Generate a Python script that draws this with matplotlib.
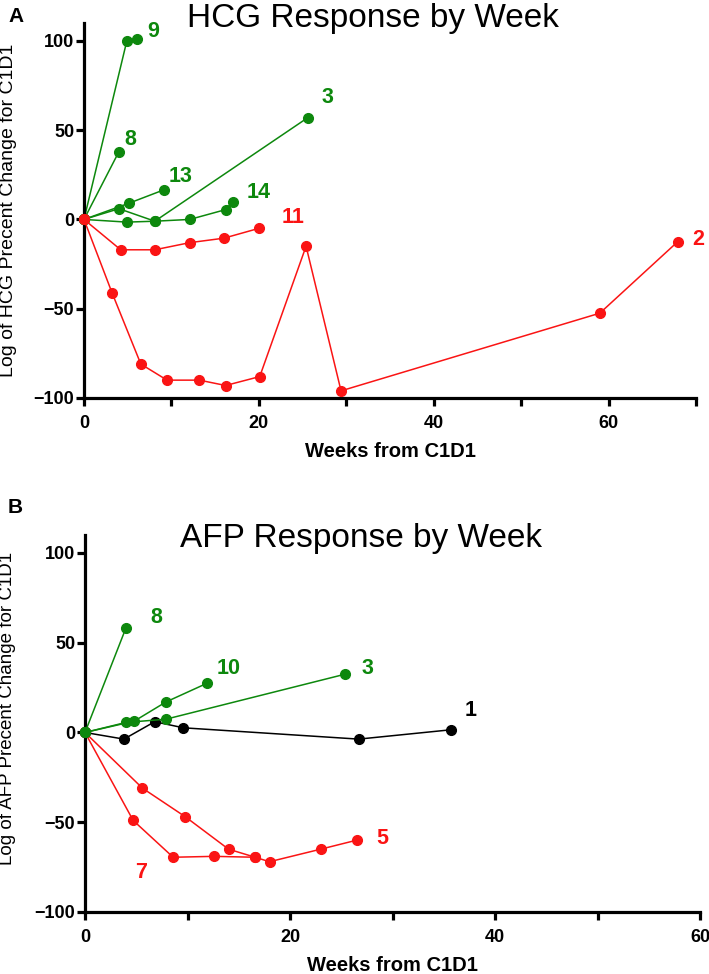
import matplotlib
matplotlib.use("Agg")
import matplotlib.pyplot as plt

plt.rcParams['font.family'] = ['Liberation Sans', 'DejaVu Sans']

GREEN = '#0d880d'
RED = '#fa1414'
BLACK = '#000000'

# ---------------- HCG data (panel A) ----------------
hcg_9_x = [0, 4.9, 6.1]
hcg_9_y = [0, 100, 101]
hcg_8_x = [0, 4.0]
hcg_8_y = [0, 38]
hcg_3_x = [0, 4.0, 8.1, 25.6]
hcg_3_y = [0, 6, -1, 57]
hcg_13_x = [0, 5.1, 9.1]
hcg_13_y = [0, 9, 16.5]
hcg_14_x = [0, 4.9, 8.1, 12.1, 16.2, 17.0]
hcg_14_y = [0, -1.5, -1, 0, 5.5, 10]
hcg_11_x = [0, 4.2, 8.1, 12.1, 16.0, 20.0]
hcg_11_y = [0, -17, -17, -13, -10.5, -5]
hcg_2_x = [0, 3.2, 6.5, 9.5, 13.2, 16.2, 20.1, 25.4, 29.4, 59.0, 67.9]
hcg_2_y = [0, -41, -81, -90, -90, -93, -88, -15, -96, -52.5, -12.5]

hcg_labels = ['9', '3', '8', '13', '14', '11', '2']
hcg_label_x = [7.9, 27.9, 5.3, 11.0, 20.0, 23.9, 70.3]
hcg_label_y = [105.4, 68.3, 44.9, 24.1, 15.1, 1.1, -11.2]
hcg_label_c = [GREEN, GREEN, GREEN, GREEN, GREEN, RED, RED]

# ---------------- AFP data (panel B) ----------------
afp_8_x = [0, 4.0]
afp_8_y = [0, 58.3]
afp_10_x = [0, 4.8, 7.9, 11.9]
afp_10_y = [0, 6.3, 17, 27.4]
afp_3_x = [0, 4.0, 7.9, 25.4]
afp_3_y = [0, 5.6, 7.4, 32.5]
afp_1_x = [0, 3.8, 6.8, 9.6, 26.7, 35.7]
afp_1_y = [0, -3.7, 6, 2.6, -3.7, 1.5]
afp_7_x = [0, 4.7, 8.6, 12.6, 16.6]
afp_7_y = [0, -49, -69.5, -69, -69.5]
afp_5_x = [0, 5.6, 9.8, 14.0, 16.6, 18.0, 23.0, 26.5]
afp_5_y = [0, -31, -47, -65, -69.5, -72, -65, -60]

afp_labels = ['8', '10', '3', '1', '5', '7']
afp_label_x = [7.0, 14.0, 27.6, 37.6, 29.0, 5.5]
afp_label_y = [64.2, 35.4, 35.4, 12.0, -59.0, -78.0]
afp_label_c = [GREEN, GREEN, GREEN, BLACK, RED, RED]

W, H = 709, 974
fig = plt.figure(figsize=(W / 100, H / 100), dpi=100)

axA = fig.add_axes([84 / W, 1 - 398 / H, (696 - 84) / W, (398 - 23) / H])
axB = fig.add_axes([85 / W, 1 - 912 / H, (700 - 85) / W, (912 - 535) / H])

MS = 7
LW = 1.1


def series(ax, x, y, c, z=2):
    ax.plot(x, y, color=c, lw=LW, marker='o', ms=MS, mec=c, mfc=c, zorder=z, clip_on=False)


# Panel A
series(axA, hcg_9_x, hcg_9_y, GREEN)
series(axA, hcg_8_x, hcg_8_y, GREEN)
series(axA, hcg_3_x, hcg_3_y, GREEN)
series(axA, hcg_13_x, hcg_13_y, GREEN)
series(axA, hcg_14_x, hcg_14_y, GREEN)
series(axA, hcg_11_x, hcg_11_y, RED, 3)
series(axA, hcg_2_x, hcg_2_y, RED, 3)
for t, x, y, c in zip(hcg_labels, hcg_label_x, hcg_label_y, hcg_label_c):
    axA.text(x, y, t, color=c, fontsize=15.5, fontweight='bold', ha='center', va='center', clip_on=False)

# Panel B
series(axB, afp_7_x, afp_7_y, RED)
series(axB, afp_5_x, afp_5_y, RED)
series(axB, afp_1_x, afp_1_y, BLACK)
series(axB, afp_8_x, afp_8_y, GREEN, 3)
series(axB, afp_10_x, afp_10_y, GREEN, 3)
series(axB, afp_3_x, afp_3_y, GREEN, 3)
for t, x, y, c in zip(afp_labels, afp_label_x, afp_label_y, afp_label_c):
    axB.text(x, y, t, color=c, fontsize=15.5, fontweight='bold', ha='center', va='center', clip_on=False)


def style(ax, xmax, ylabel, ylsize, ylpos):
    ax.set_xlim(0, xmax)
    ax.set_ylim(-100, 110)
    for s in ['top', 'right']:
        ax.spines[s].set_visible(False)
    for s in ['left', 'bottom']:
        ax.spines[s].set_linewidth(2.3)
    ax.set_xticks(range(0, xmax + 1, 10))
    ax.set_xticklabels([str(v) if v % 20 == 0 else '' for v in range(0, xmax + 1, 10)])
    ax.set_yticks([-100, -50, 0, 50, 100])
    ax.set_yticklabels(['\u2212100', '\u221250', '0', '50', '100'])
    ax.tick_params(direction='out', length=5.5, width=2.3, labelsize=13)
    ax.tick_params(axis='x', pad=7)
    ax.tick_params(axis='y', pad=1.5)
    for lab in ax.get_xticklabels() + ax.get_yticklabels():
        lab.set_fontweight('bold')
    ax.set_xlabel('Weeks from C1D1', fontsize=14.5, fontweight='bold', labelpad=7)
    ax.set_ylabel(ylabel, fontsize=ylsize)
    ax.yaxis.set_label_coords(ylpos[0], ylpos[1])


style(axA, 70, 'Log of HCG Precent Change for C1D1', 14, (-0.11, 0.5))
style(axB, 60, 'Log of AFP Precent Change for C1D1', 13.5, (-0.112, 0.54))

fig.text(187 / W, 1 - 27 / H, 'HCG Response by Week', fontsize=24, ha='left', va='baseline')
fig.text(180 / W, 1 - 547 / H, 'AFP Response by Week', fontsize=24, ha='left', va='baseline')
fig.text(8 / W, 1 - 22 / H, 'A', fontsize=15, fontweight='bold', ha='left', va='baseline')
fig.text(8 / W, 1 - 513 / H, 'B', fontsize=15, fontweight='bold', ha='left', va='baseline')

fig.savefig('out.png', dpi=100)
